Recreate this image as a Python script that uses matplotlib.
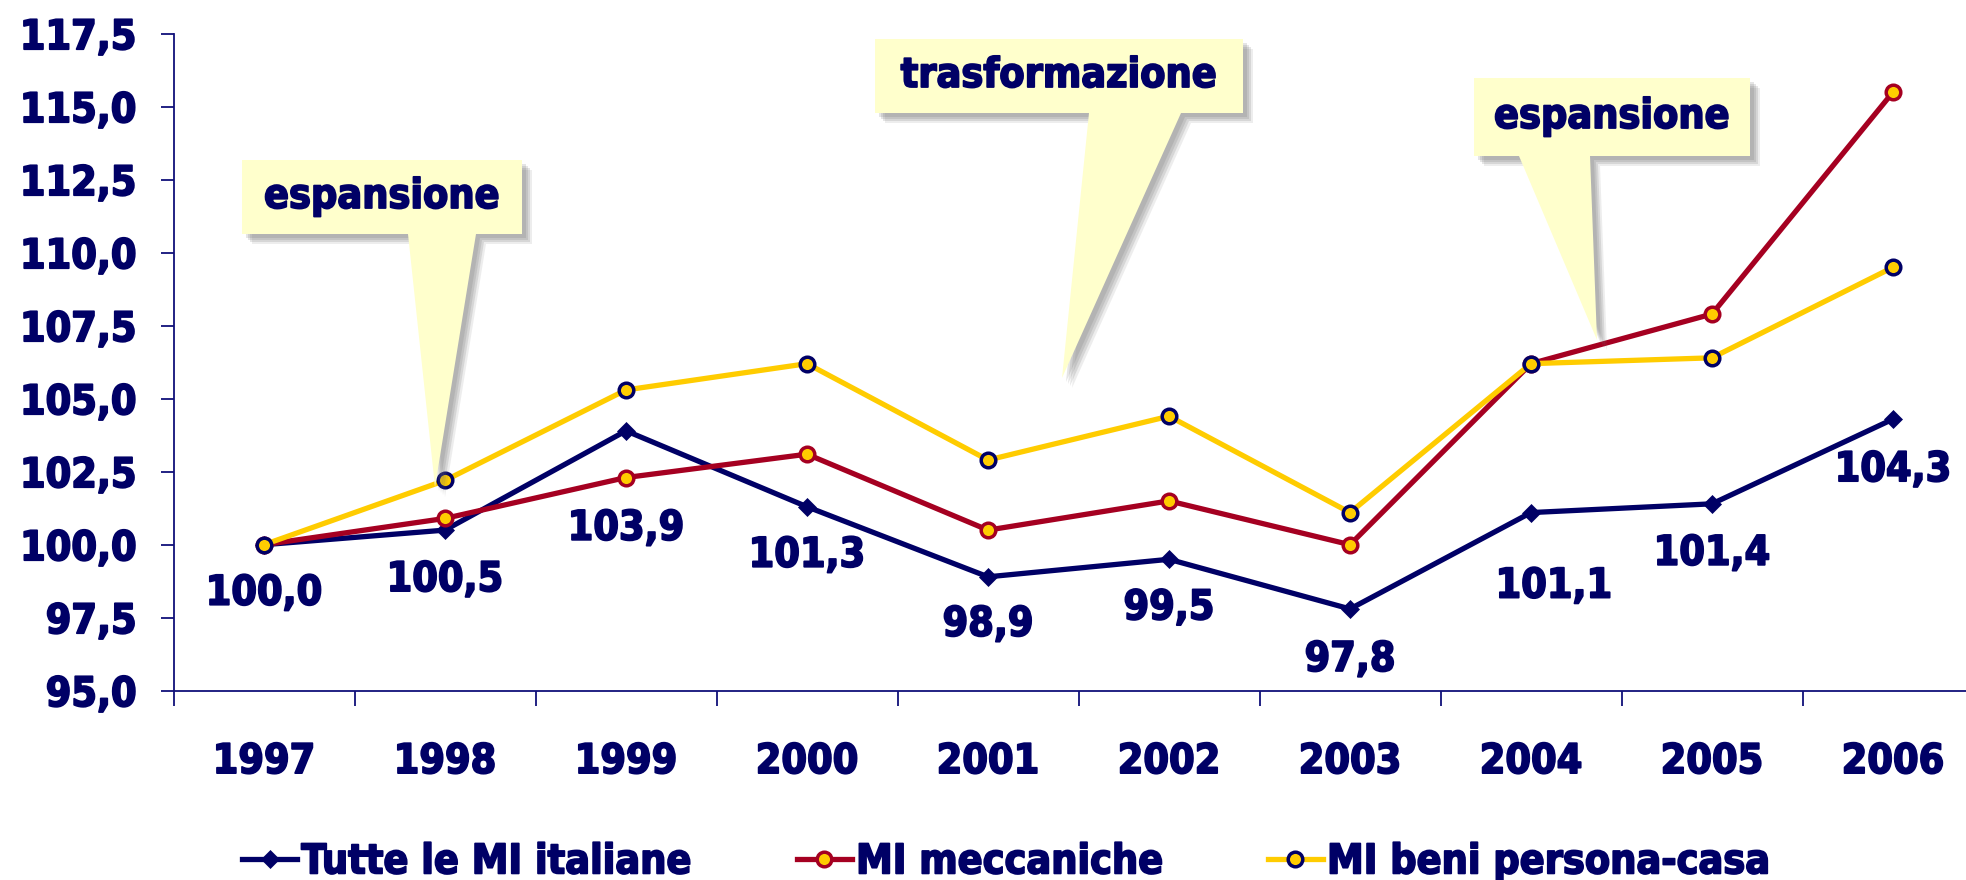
import matplotlib
matplotlib.use('Agg')
import matplotlib.pyplot as plt
from matplotlib import font_manager as fm
from matplotlib import patheffects as pe
from matplotlib.patches import Polygon
from matplotlib.lines import Line2D

# ---------------- data ----------------
years = ['1997', '1998', '1999', '2000', '2001', '2002', '2003', '2004', '2005', '2006']
tutte_mi = [100.0, 100.5, 103.9, 101.3, 98.9, 99.5, 97.8, 101.1, 101.4, 104.3]
mi_meccaniche = [100.0, 100.9, 102.3, 103.1, 100.5, 101.5, 100.0, 106.2, 107.9, 115.5]
mi_persona_casa = [100.0, 102.2, 105.3, 106.2, 102.9, 104.4, 101.1, 106.2, 106.4, 109.5]
series_names = ['Tutte le MI italiane', 'MI meccaniche', 'MI beni persona-casa']
y_ticks = [95.0, 97.5, 100.0, 102.5, 105.0, 107.5, 110.0, 112.5, 115.0, 117.5]
callout_texts = ['espansione', 'trasformazione', 'espansione']

# ---------------- style / layout ----------------
W, H = 1966, 880
NAVY = '#000066'
RED = '#A50021'
GOLD = '#FFCC00'
AXISC = '#10107A'
CALLOUT_FILL = '#FFFFCC'
LW = 3.8

cond = [f for f in fm.fontManager.ttflist
        if 'DejaVu' in f.name and 'Condensed' in f.fname and 'Bold' in f.fname
        and 'Oblique' not in f.fname and 'Mono' not in f.fname and 'Serif' not in f.fname]
if cond:
    FP = fm.FontProperties(fname=cond[0].fname, size=29.5)
else:
    FP = fm.FontProperties(family='DejaVu Sans', weight='bold', size=26.5)
HEAVY = [pe.withStroke(linewidth=1.3, foreground=NAVY)]

fig = plt.figure(figsize=(W / 100, H / 100), dpi=100)
ax_left, ax_right = 173.5, 1983.5
ax_top, ax_bottom = 33.7, 690.7
ax = fig.add_axes([ax_left / W, 1 - ax_bottom / H, (ax_right - ax_left) / W, (ax_bottom - ax_top) / H])

x = list(range(len(years)))
navy_style = dict(color=NAVY, lw=LW, marker='D', ms=9, mfc=NAVY, mec=NAVY, mew=0.5)
red_style = dict(color=RED, lw=LW, marker='o', ms=10.5, mfc=GOLD, mec=RED, mew=2.5)
gold_style = dict(color=GOLD, lw=LW, marker='o', ms=10.5, mfc=GOLD, mec=NAVY, mew=2.5)
ax.plot(x, tutte_mi, zorder=3, **navy_style)
ax.plot(x, mi_meccaniche, zorder=4, **red_style)
ax.plot(x, mi_persona_casa, zorder=5, **gold_style)

ax.set_xlim(-0.5, len(years) - 0.5)
ax.set_ylim(y_ticks[0], y_ticks[-1])

for s in ['top', 'right']:
    ax.spines[s].set_visible(False)
for s in ['left', 'bottom']:
    ax.spines[s].set_color(AXISC)
    ax.spines[s].set_linewidth(1.3)

ax.set_yticks(y_ticks)
ax.set_yticklabels([('%.1f' % v).replace('.', ',') for v in y_ticks], fontproperties=FP, color=NAVY)
ax.tick_params(axis='y', direction='out', length=9.5, width=1.3, color=AXISC, pad=17)

ax.set_xticks(x)
ax.set_xticklabels(years, fontproperties=FP, color=NAVY)
ax.tick_params(axis='x', which='major', length=0, pad=37)
ax.set_xticks([i - 0.5 for i in range(len(years) + 1)], minor=True)
ax.tick_params(axis='x', which='minor', direction='out', length=11, width=1.3, color=AXISC)
for lab in ax.get_xticklabels() + ax.get_yticklabels():
    lab.set_path_effects(HEAVY)

# data labels (navy series)
label_dy = [45, 46, 94, 45, 44, 45, 47, 70, 46, 47]
label_dx = [0, 0, 0, 0, 0, 0, 0, 23, 0, 0]
for i, v in enumerate(tutte_mi):
    ax.annotate(('%.1f' % v).replace('.', ','), xy=(i, v),
                xytext=(label_dx[i], -(label_dy[i] + 15)), textcoords='offset pixels',
                ha='center', va='baseline', fontproperties=FP, color=NAVY, zorder=6,
                path_effects=HEAVY)

# legend
handles = [Line2D([], [], **navy_style), Line2D([], [], **red_style), Line2D([], [], **gold_style)]
leg = fig.legend(handles, series_names, loc='center', bbox_to_anchor=(0.512, 0.020),
                 ncol=3, frameon=False, prop=FP, handlelength=1.34, handletextpad=0.1,
                 columnspacing=2.55, borderpad=0, borderaxespad=0, numpoints=1)
for t in leg.get_texts():
    t.set_color(NAVY)
    t.set_path_effects(HEAVY)

# callouts (pixel geometry: box l,t,r,b ; pointer base x1,x2 ; tip)
callouts = [
    ((242, 160, 522, 234), (408, 476), (435, 487)),
    ((875, 39, 1243, 113), (1089, 1181), (1062, 378)),
    ((1474, 78, 1750, 156), (1519, 1590), (1597, 340)),
]


def fpx(px, py):
    return (px / W, 1 - py / H)


for (box, base, tip), txt in zip(callouts, callout_texts):
    l, t, r, b = box
    pts = [(l, t), (r, t), (r, b), (base[1], b), tip, (base[0], b), (l, b)]
    for off, a in [(4, 0.18), (6, 0.18), (8, 0.18), (10, 0.12)]:
        sh = Polygon([fpx(px + off, py + off) for px, py in pts], closed=True,
                     transform=fig.transFigure, facecolor='#707070', edgecolor='none',
                     alpha=a, zorder=7)
        fig.add_artist(sh)
    poly = Polygon([fpx(px, py) for px, py in pts], closed=True, transform=fig.transFigure,
                   facecolor=CALLOUT_FILL, edgecolor='none', zorder=8)
    fig.add_artist(poly)
    cx, cy = fpx((l + r) / 2, (t + b) / 2)
    fig.text(cx, cy, txt, ha='center', va='center', fontproperties=FP, color=NAVY, zorder=9,
             path_effects=HEAVY)

fig.savefig('out.png', dpi=100)
